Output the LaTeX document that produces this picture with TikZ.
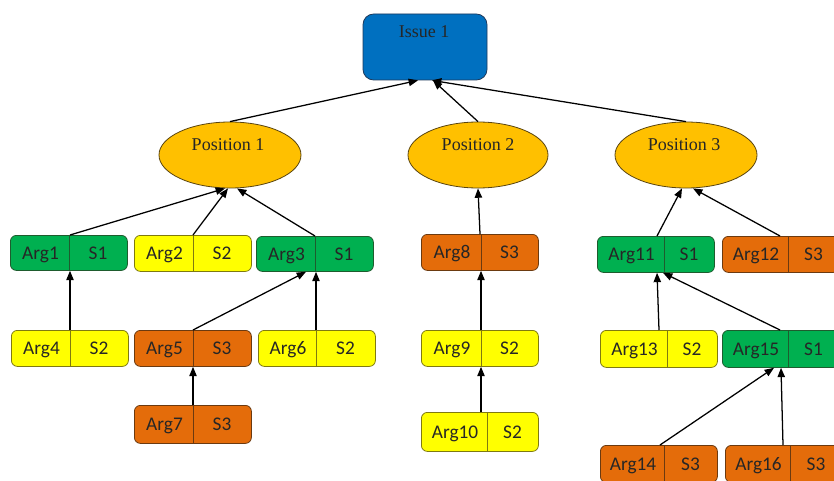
\documentclass[tikz,border=0pt]{standalone}
\usepackage{fontspec}
\setmainfont{Liberation Serif}
\newfontfamily\calib{Carlito}
\usetikzlibrary{arrows.meta,shapes.geometric,calc}
\definecolor{grF}{HTML}{00B050}
\definecolor{grD}{HTML}{1E5C2E}
\definecolor{yeF}{HTML}{FFFF00}
\definecolor{yeD}{HTML}{7F7A10}
\definecolor{orF}{HTML}{E46C0A}
\definecolor{orD}{HTML}{6B3A10}
\definecolor{blF}{HTML}{0070C0}
\definecolor{blD}{HTML}{1F3A5C}
\definecolor{goF}{HTML}{FFC000}
\definecolor{goD}{HTML}{5A4510}
\tikzset{
  argbox/.style={rectangle,rounded corners=4.5pt,minimum width=87.75pt,inner sep=0pt,line width=0.6pt},
  lbl/.style={font=\calib\fontsize{14.5}{16}\selectfont,text=black!85,inner sep=0pt,anchor=base},
  plbl/.style={font=\fontsize{13.5}{15}\selectfont,text=black!85,inner sep=0pt},
  posn/.style={ellipse,fill=goF,draw=goD,line width=0.6pt,minimum width=106.5pt,minimum height=49.5pt,inner sep=0pt},
  arr/.style={-{Triangle[length=7pt,width=5.5pt]},line width=0.95pt,black},
  divline/.style={line width=0.6pt}
}
% name, xleft, ytop, height, xdivider, colour, arg text, s text
\newcommand\argbox[8]{%
  \node[argbox,fill=#6F,draw=#6D,minimum height=#4*0.75pt,anchor=north west] (#1) at (#2,#3) {};
  \draw[divline,draw=#6D] (#5,#3) -- (#5,{#3+#4});
  \node[lbl] (#1-a) at ({(#2+#5)/2+1},{#3+#4/2+6.5}) {#7};
  \node[lbl] (#1-s) at ({(#5+#2+117)/2},{#3+#4/2+6.5}) {#8};
}
\begin{document}
\begin{tikzpicture}[x=0.75pt,y=-0.75pt]
\useasboundingbox (0,0) rectangle (834,481);
\clip (0,0) rectangle (834,481);
\fill[white] (0,0) rectangle (834,481);

% Issue
\node[rectangle,rounded corners=8pt,fill=blF,draw=blD,line width=0.6pt,minimum width=93pt,minimum height=49.5pt,inner sep=0pt] (issue) at (425,47) {};
\node[plbl] (issuelbl) at (424,32) {Issue 1};

% Positions
\node[posn] (p1) at (230,155) {};
\node[plbl] (p1lbl) at (228,145) {Position 1};
\node[posn,minimum width=105pt] (p2) at (478,155) {};
\node[plbl] (p2lbl) at (478,145) {Position 2};
\node[posn] (p3) at (686,155) {};
\node[plbl] (p3lbl) at (684,145) {Position 3};

% Arguments
\argbox{a1}{10}{235}{35}{69}{gr}{Arg1}{S1}
\argbox{a2}{134}{235}{36}{193}{ye}{Arg2}{S2}
\argbox{a3}{256}{236}{35}{315}{gr}{Arg3}{S1}
\argbox{a4}{11}{330}{36}{70}{ye}{Arg4}{S2}
\argbox{a5}{134}{330}{36}{193}{or}{Arg5}{S3}
\argbox{a6}{258}{330}{36}{316}{ye}{Arg6}{S2}
\argbox{a7}{134}{405}{38}{193}{or}{Arg7}{S3}
\argbox{a8}{421}{234}{36}{481}{or}{Arg8}{S3}
\argbox{a9}{421}{330}{36}{481}{ye}{Arg9}{S2}
\argbox{a10}{421}{412}{39}{487}{ye}{Arg10}{S2}
\argbox{a11}{597}{236}{36}{664}{gr}{Arg11}{S1}
\argbox{a12}{722}{236}{36}{788}{or}{Arg12}{S3}
\argbox{a13}{600}{330}{37}{667}{ye}{Arg13}{S2}
\argbox{a15}{722}{330}{37}{788}{gr}{Arg15}{S1}
\argbox{a14}{600}{445}{37}{664}{or}{Arg14}{S3}
\argbox{a16}{725}{445}{37}{790}{or}{Arg16}{S3}

% Connectors to issue
\draw[arr] (p1.north) -- ($(issue.south)+(-7,0)$);
\draw[arr] (p3.north) -- ($(issue.south)+(7,0)$);
\draw[arr] (p2.north) -- ($(issue.south)+(8,0)$);

% Position 1
\draw[arr] (a1.north -| 70,0) -- ($(p1.south)+(-5,0)$);
\draw[arr] (a2.north -| 193,0) -- ($(p1.south)+(-2,0)$);
\draw[arr] (a3.north -| 315,0) -- ($(p1.south)+(7,0)$);
\draw[arr] (a4.north -| 70,0) -- (a1.south -| 70,0);
\draw[arr] (a5.north -| 193,0) -- (a3.south -| 306,0);
\draw[arr] (a6.north -| 316,0) -- (a3.south -| 316,0);
\draw[arr] (a7.north -| 193,0) -- (a5.south -| 193,0);

% Position 2
\draw[arr] (a8.north -| 480,0) -- (p2.south);
\draw[arr] (a9.north -| 481,0) -- (a8.south -| 481,0);
\draw[arr] (a10.north -| 481,0) -- (a9.south -| 481,0);

% Position 3
\draw[arr] (a11.north -| 657,0) -- ($(p3.south)+(-4,0)$);
\draw[arr] (a12.north -| 780,0) -- ($(p3.south)+(7,0)$);
\draw[arr] (a13.north -| 659,0) -- (a11.south -| 657,0);
\draw[arr] (a15.north -| 780,0) -- (a11.south -| 663,0);
\draw[arr] (a14.north -| 660,0) -- (a15.south -| 774,0);
\draw[arr] (a16.north -| 783,0) -- (a15.south -| 781,0);
\end{tikzpicture}
\end{document}
